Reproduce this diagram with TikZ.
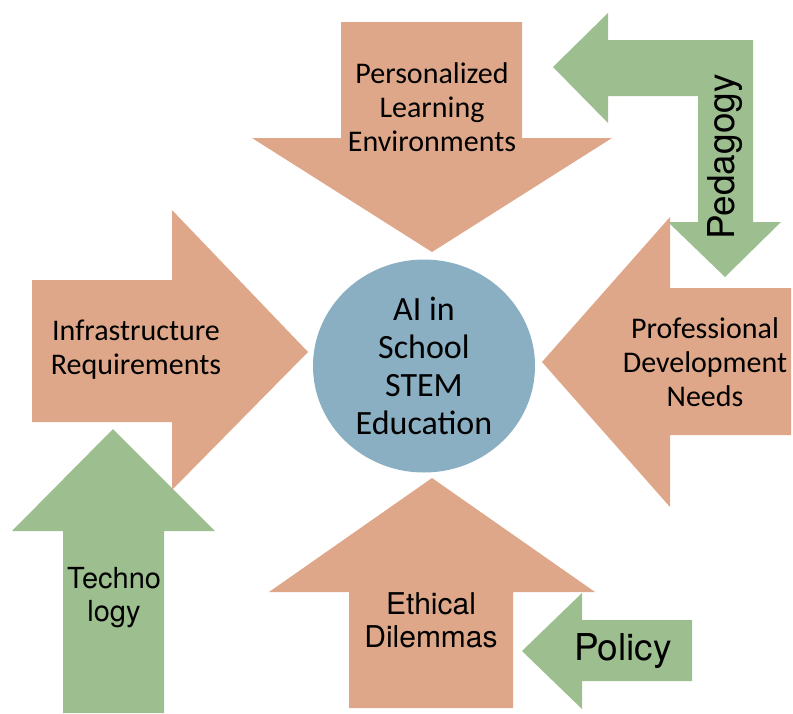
\documentclass[tikz,border=0pt]{standalone}
\usepackage{fontspec}
\setmainfont{Carlito}
\newfontfamily\headfont{TeX Gyre Heros}
\usetikzlibrary{shapes.geometric}
\definecolor{corange}{HTML}{DFA789}
\definecolor{cgreen}{HTML}{9DBF90}
\definecolor{cblue}{HTML}{8AAFC2}
\tikzset{
  warm/.style={fill=corange, draw=none},
  leaf/.style={fill=cgreen, draw=none},
  lbl/.style={align=center, inner sep=0pt, font=\fontsize{30}{34}\selectfont},
  lblalt/.style={align=center, inner sep=0pt, font=\headfont\fontsize{30}{33}\selectfont},
  lblbig/.style={inner sep=0pt, font=\headfont\fontsize{37}{40}\selectfont},
  hub/.style={ellipse, fill=cblue, minimum width=222pt, minimum height=213pt, inner sep=0pt, align=center, font=\fontsize{34}{38}\selectfont},
}

\begin{document}
\begin{tikzpicture}[x=1pt, y=-1pt]
  \useasboundingbox (0,0) rectangle (793,713);

  % green side arrows (behind the orange ones)
  \fill[leaf] (113,429) -- (215,531) -- (164,531) -- (164,713) -- (63,713) -- (63,531) -- (12,531) -- cycle;
  \fill[leaf] (553,67) -- (608,13) -- (608,40) -- (753,40) -- (753,222) -- (781,222) -- (725,277)
    -- (668,222) -- (698,222) -- (698,96) -- (608,96) -- (608,123) -- cycle;
  \fill[leaf] (522,651) -- (582,593) -- (582,620) -- (692,620) -- (692,681) -- (582,681) -- (582,709) -- cycle;

  % orange arrows pointing at the hub
  \fill[warm] (341,22) -- (522,22) -- (522,138) -- (612,138) -- (432,252) -- (252,138) -- (341,138) -- cycle;
  \fill[warm] (32,280) -- (172,280) -- (172,210) -- (308,352) -- (172,490) -- (172,422) -- (32,422) -- cycle;
  \fill[warm] (542,362) -- (670,217) -- (670,288) -- (791,288) -- (791,435) -- (670,435) -- (670,507) -- cycle;
  \fill[warm] (432,478) -- (595,592) -- (513,592) -- (513,708) -- (349,708) -- (349,592) -- (269,592) -- cycle;

  \node[hub] (hub) at (424,366) {AI in\\School\\STEM\\Education};

  \node[lbl] (pers) at (432,107) {Personalized\\Learning\\Environments};
  \node[lbl] (infra) at (136,350) {Infrastructure\\Requirements};
  \node[lbl] (prof) at (705,362) {Professional\\Development\\Needs};
  \node[lblalt] (ethic) at (431,620) {Ethical\\Dilemmas};
  \node[lblalt, font=\headfont\fontsize{29}{33}\selectfont] (tech) at (114,598) {Techno\\logy};
  \node[lblbig] (policy) at (623,651) {Policy};
  \node[lblbig, rotate=90] (peda) at (725,157) {Pedagogy};
\end{tikzpicture}
\end{document}
